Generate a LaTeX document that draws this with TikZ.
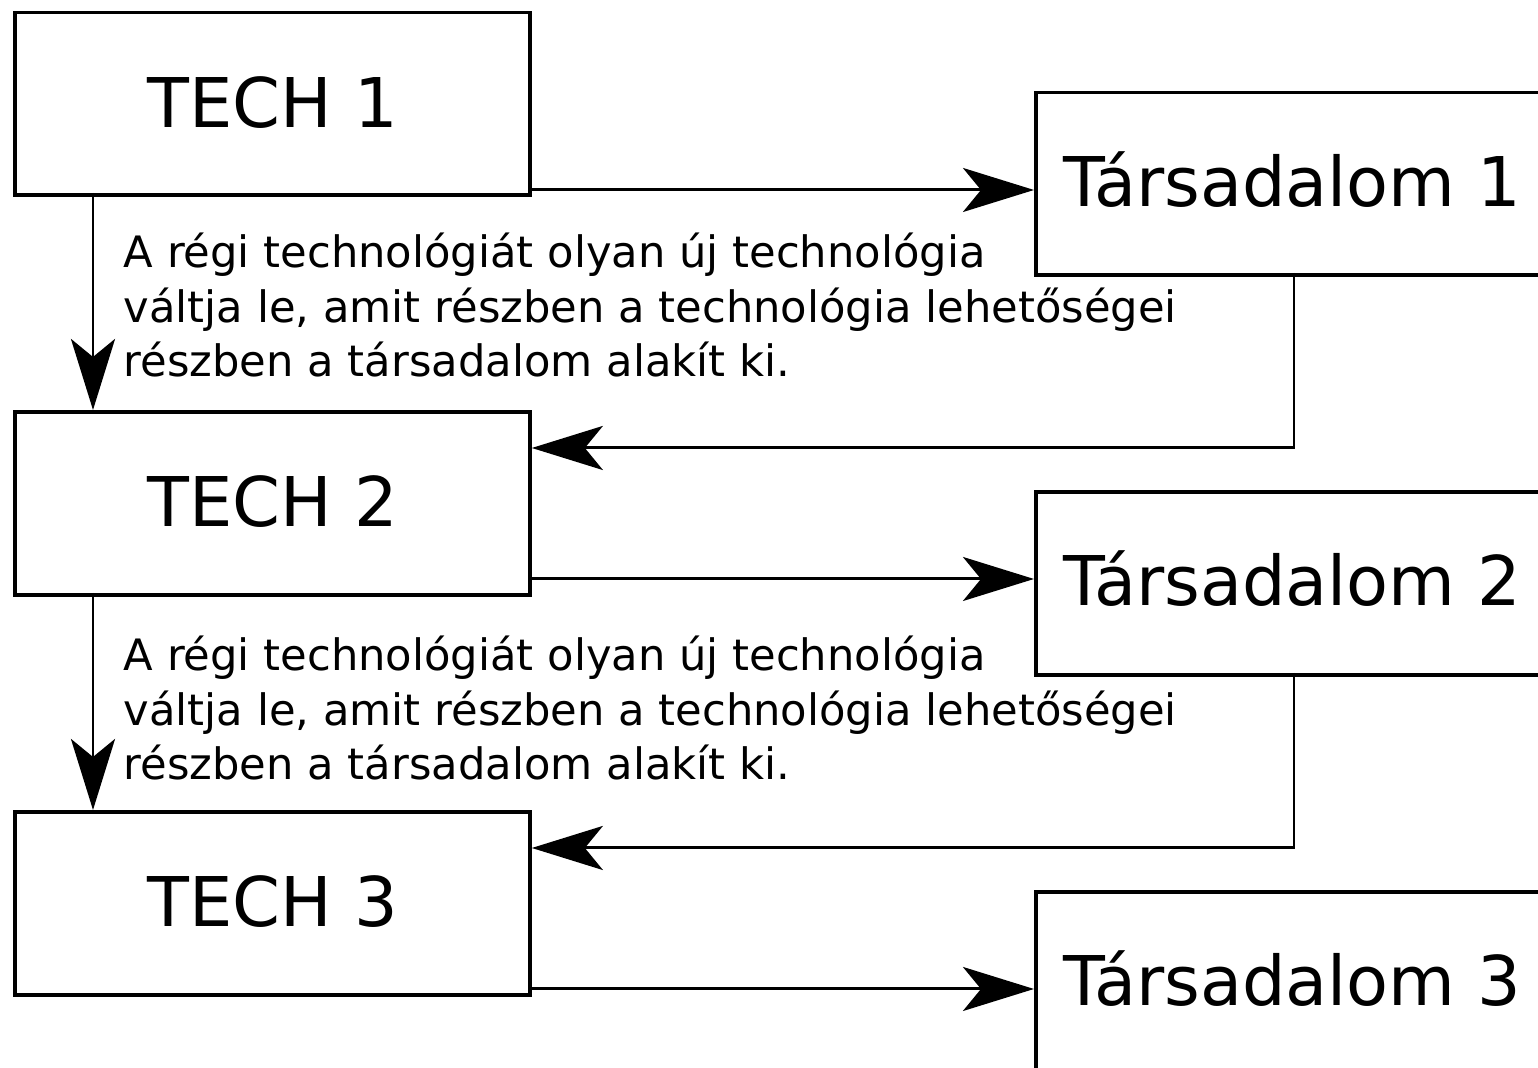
\documentclass[tikz,border=0pt]{standalone}
\usepackage{fontspec}
\setmainfont{DejaVu Sans}
\usetikzlibrary{arrows.meta,calc}
\begin{document}
\begin{tikzpicture}[x=0.01cm,y=-0.01cm,
  tbox/.style={draw,line width=1pt,inner sep=0pt,anchor=north west},
  big/.style={font=\fontsize{19.5}{24}\selectfont,inner sep=0pt,anchor=base west},
  note/.style={font=\fontsize{12.3}{15.5}\selectfont,inner sep=0pt,anchor=base west,align=left},
  arr/.style={line width=0.85pt,-{Stealth[length=0.71cm,width=0.44cm,inset=0.18cm]}},
  ln/.style={line width=0.85pt}]
\useasboundingbox (0,0) rectangle (1538,1068);
\clip (0,0) rectangle (1538,1068);
% TECH boxes
\node[tbox,minimum width=5.15cm,minimum height=1.82cm] (t1) at (13,11) {};
\node[tbox,minimum width=5.15cm,minimum height=1.83cm] (t2) at (13,410) {};
\node[tbox,minimum width=5.15cm,minimum height=1.83cm] (t3) at (13,810) {};
% Tarsadalom boxes (cut by the page edge)
\node[tbox,minimum width=5.4cm,minimum height=1.82cm] (s1) at (1034,91) {};
\node[tbox,minimum width=5.4cm,minimum height=1.83cm] (s2) at (1034,490) {};
\node[tbox,minimum width=5.4cm,minimum height=2.2cm] (s3) at (1034,890) {};
% labels
\node[big] (l1) at (147,128) {TECH 1};
\node[big] (l2) at (147,527) {TECH 2};
\node[big] (l3) at (147,927) {TECH 3};
\node[big] (m1) at (1063,207) {Társadalom 1};
\node[big] (m2) at (1063,606) {Társadalom 2};
\node[big] (m3) at (1063,1006) {Társadalom 3};
\node[note] (n1) at (123,377) {A régi technológiát olyan új technológia\\váltja le, amit részben a technológia lehetőségei\\részben a társadalom alakít ki.};
\node[note] (n2) at (123,780) {A régi technológiát olyan új technológia\\váltja le, amit részben a technológia lehetőségei\\részben a társadalom alakít ki.};
% forward arrows
\coordinate (a1) at (528,190);
\coordinate (a2) at (528,579);
\coordinate (a3) at (528,989);
\draw[arr] (a1) -- (s1.west |- a1);
\draw[arr] (a2) -- (s2.west |- a2);
\draw[arr] (a3) -- (s3.west |- a3);
% down arrows
\coordinate (d1) at (93,193);
\coordinate (d2) at (93,593);
\draw[arr] (d1) -- (t2.north -| d1);
\draw[arr] (d2) -- (t3.north -| d2);
% return arrows
\coordinate (r1) at (1294,273);
\coordinate (c1) at (1294,448);
\coordinate (r2) at (1294,673);
\coordinate (c2) at (1294,848);
\draw[arr] (r1) -- (c1) -- (t2.east |- c1);
\draw[arr] (r2) -- (c2) -- (t3.east |- c2);
\end{tikzpicture}
\end{document}
